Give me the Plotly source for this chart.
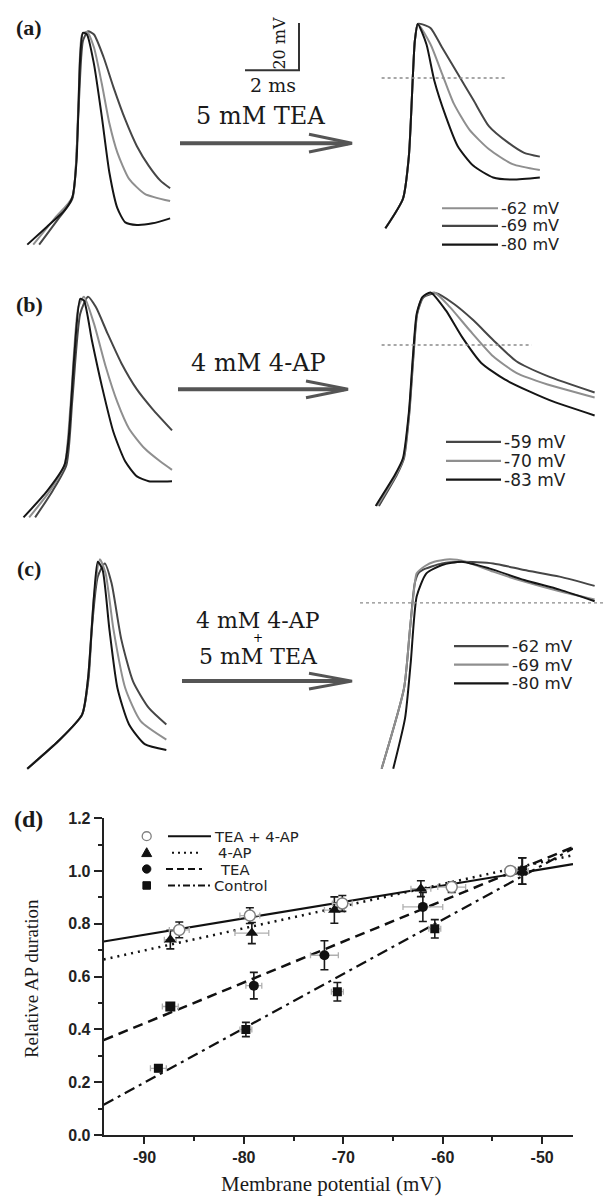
import plotly.graph_objects as go

W, H = 613, 1204          # reference picture size
OFF = 8                   # browser body margin that shifts the page content
PX_PER_MS = 27.0          # 2 ms scale bar = 54 px
PX_PER_MV = 2.4           # 20 mV scale bar = 48 px
V_REF = -70.0

DARK, LIGHT, BLACK = "#464646", "#8f8f8f", "#151515"

# ---------------- data: panel (a) ----------------
A_L_T_BLACK = [0.27, 1.00, 1.65, 1.94, 2.09, 2.23, 2.33, 2.48, 2.74, 3.03, 3.31, 3.61, 3.90, 4.33, 4.91, 5.56]
A_L_V_BLACK = [-65.8, -58.2, -51.3, -45.7, -31.1, 13.3, 23.75, 23.0, 10.5, -11.7, -35.3, -50.5, -56.4, -57.5, -56.8, -54.7]
A_L_T_LIGHT = [0.49, 1.30, 1.94, 2.16, 2.30, 2.48, 2.74, 3.03, 3.31, 3.61, 4.04, 4.62, 5.56]
A_L_V_LIGHT = [-65.8, -54.5, -45.7, -7.5, 23.0, 24.2, 17.5, 2.2, -14.5, -27.0, -38.0, -44.3, -47.4]
A_L_T_DARK = [0.71, 1.43, 1.94, 2.16, 2.33, 2.52, 2.74, 3.10, 3.46, 3.90, 4.33, 4.77, 5.20, 5.56]
A_L_V_DARK = [-65.8, -54.7, -46.4, -10.3, 20.3, 24.4, 23.0, 13.3, 0.8, -13.0, -24.2, -32.5, -38.75, -42.0]

A_R_T_BLACK = [0.20, 0.85, 1.07, 1.29, 1.40, 1.72, 2.01, 2.44, 2.88, 3.46, 4.19, 4.91, 5.92]
A_R_V_BLACK = [-58.9, -46.4, -28.3, 20.3, 27.5, 18.9, 3.6, -11.7, -24.2, -32.5, -37.4, -38.3, -37.4]
A_R_T_LIGHT = [0.20, 0.85, 1.07, 1.29, 1.40, 1.87, 2.30, 2.73, 3.31, 4.04, 4.91, 5.92]
A_R_V_LIGHT = [-58.9, -46.4, -28.3, 20.3, 27.5, 18.9, 6.4, -6.1, -17.2, -25.5, -31.8, -34.3]
A_R_T_DARK = [0.20, 0.85, 1.07, 1.29, 1.40, 1.50, 1.87, 2.30, 2.88, 3.46, 4.04, 4.76, 5.34, 5.92]
A_R_V_DARK = [-58.9, -46.4, -28.3, 20.3, 27.5, 27.5, 25.8, 17.5, 6.4, -4.7, -15.8, -22.8, -27.0, -28.6]
A_HALF_T = [0.06, 4.62]
A_HALF_V = [4.6, 4.6]
A_LABELS = ["-62 mV", "-69 mV", "-80 mV"]

# ---------------- data: panel (b) ----------------
B_L_T_BLACK = [0.13, 1.00, 1.65, 1.80, 2.01, 2.23, 2.37, 2.66, 3.03, 3.46, 3.90, 4.33, 4.77, 5.63]
B_L_V_BLACK = [-68.6, -57.5, -46.4, -35.3, -0.5, 23.75, 23.0, 6.4, -13.0, -32.5, -45.0, -51.25, -53.3, -53.3]
B_L_T_LIGHT = [0.34, 1.10, 1.65, 1.87, 2.16, 2.37, 2.74, 3.17, 3.61, 4.04, 4.62, 5.20, 5.63]
B_L_V_LIGHT = [-68.6, -57.5, -46.4, -21.4, 20.3, 24.7, 13.3, -4.7, -20.0, -31.1, -39.5, -45.0, -48.5]
B_L_T_DARK = [0.56, 1.20, 1.72, 1.94, 2.23, 2.52, 2.81, 3.24, 3.75, 4.33, 4.91, 5.63]
B_L_V_DARK = [-68.6, -57.5, -46.4, -18.6, 17.5, 24.7, 20.3, 9.2, -3.3, -14.5, -22.8, -31.8]

B_R_T_BLACK = [0.21, 0.93, 1.22, 1.44, 1.59, 1.73, 1.94, 2.24, 2.81, 3.40, 4.12, 4.99, 5.86, 6.87, 8.32]
B_R_V_BLACK = [-63.75, -50.5, -43.6, -24.2, -0.5, 17.5, 24.5, 26.5, 18.9, 7.8, -3.3, -10.3, -15.1, -20.0, -25.5]
B_R_T_LIGHT = [0.27, 0.97, 1.24, 1.45, 1.60, 1.74, 1.96, 2.38, 2.96, 3.69, 4.56, 5.42, 6.58, 8.32]
B_R_V_LIGHT = [-63.75, -50.5, -43.6, -24.2, -0.5, 17.5, 24.5, 26.5, 20.3, 10.5, -0.5, -7.5, -12.4, -17.9]
B_R_T_DARK = [0.33, 1.00, 1.26, 1.46, 1.61, 1.75, 1.98, 2.45, 3.10, 3.83, 4.56, 5.42, 6.58, 8.32]
B_R_V_DARK = [-63.75, -50.5, -43.6, -24.2, -0.5, 17.5, 24.5, 26.1, 21.7, 14.7, 6.4, -2.6, -8.9, -15.8]
B_HALF_T = [0.43, 5.99]
B_HALF_V = [4.3, 4.3]
B_LABELS = ["-59 mV", "-70 mV", "-83 mV"]

# ---------------- data: panel (c) ----------------
C_L_T_BLACK = [0.27, 1.43, 2.30, 2.52, 2.74, 2.88, 3.06, 3.31, 3.61, 4.04, 4.62, 5.42]
C_L_V_BLACK = [-66.5, -54.7, -43.6, -28.3, 6.4, 21.0, 17.5, -7.5, -32.5, -47.8, -56.1, -58.6]
C_L_T_LIGHT = [0.27, 1.43, 2.30, 2.52, 2.74, 2.96, 3.17, 3.46, 3.90, 4.47, 5.42]
C_L_V_LIGHT = [-66.5, -54.7, -43.6, -28.3, 6.4, 22.0, 16.1, -7.5, -32.5, -46.4, -54.2]
C_L_T_DARK = [0.27, 1.43, 2.30, 2.54, 2.66, 2.88, 3.14, 3.39, 3.75, 4.19, 4.77, 5.42]
C_L_V_DARK = [-66.5, -54.7, -43.6, -28.3, -7.5, 14.7, 20.3, 12.0, -11.7, -29.7, -40.8, -47.8]

C_R_T_LIGHT = [0.43, 1.26, 1.48, 1.66, 1.73, 2.04, 2.38, 2.96, 3.54, 4.56, 5.71, 7.02, 8.32]
C_R_V_LIGHT = [-66.5, -32.5, -7.5, 12.0, 16.1, 19.2, 21.0, 22.0, 21.0, 16.8, 12.6, 8.5, 5.0]
C_R_T_DARK = [0.43, 1.26, 1.48, 1.66, 1.80, 1.94, 2.67, 3.40, 4.56, 5.71, 7.02, 8.32]
C_R_V_DARK = [-66.5, -32.5, -7.5, 12.0, 16.25, 17.5, 20.3, 21.0, 20.3, 17.5, 14.7, 10.8]
C_R_T_BLACK = [0.86, 1.30, 1.51, 1.73, 2.09, 2.67, 3.40, 4.41, 5.71, 7.02, 8.32]
C_R_V_BLACK = [-66.5, -45.0, -21.4, 6.4, 16.1, 19.6, 21.0, 18.2, 13.3, 9.2, 4.3]
C_HALF_T = [-0.37, 8.99]
C_HALF_V = [3.6, 3.6]
C_LABELS = ["-62 mV", "-69 mV", "-80 mV"]

SCALE_MS = 2.0
SCALE_MV = 20.0

# ---------------- data: panel (d) ----------------
X_TICKS = [-90, -80, -70, -60, -50]
Y_TICKS = [0.0, 0.2, 0.4, 0.6, 0.8, 1.0, 1.2]
Y_TICK_TEXT = ["0.0", "0.2", "0.4", "0.6", "0.8", "1.0", "1.2"]

V_TEA4AP = [-86.5, -79.4, -70.1, -59.1, -53.2]
D_TEA4AP = [0.777, 0.831, 0.877, 0.939, 1.0]
EY_TEA4AP = [0.03, 0.03, 0.03, 0.02, 0.01]
EX_TEA4AP = [1.0, 1.0, 1.0, 1.4, 0.5]

V_4AP = [-87.4, -79.2, -70.9, -62.2, -52.0]
D_4AP = [0.740, 0.765, 0.852, 0.933, 1.0]
EY_4AP = [0.035, 0.04, 0.05, 0.03, 0.05]
EX_4AP = [0.6, 1.7, 1.0, 1.0, 0.6]

V_TEA = [-87.4, -79.0, -71.9, -62.0, -52.0]
D_TEA = [0.487, 0.566, 0.681, 0.864, 1.0]
EY_TEA = [0.012, 0.05, 0.055, 0.055, 0.05]
EX_TEA = [0.8, 0.8, 1.4, 2.0, 0.6]
SYM_TEA = ["square", "circle", "circle", "circle", "circle"]

V_CTRL = [-88.6, -79.8, -70.6, -60.8, -52.0]
D_CTRL = [0.253, 0.400, 0.543, 0.781, 1.0]
EY_CTRL = [0.012, 0.027, 0.035, 0.035, 0.05]
EX_CTRL = [0.8, 0.6, 0.6, 0.6, 0.6]

FIT_V = [-94.1, -46.9]
FIT_TEA4AP = [0.733, 1.026]
FIT_4AP = [0.665, 1.06]
FIT_TEA = [0.36, 1.09]
FIT_CTRL = [0.115, 1.085]

D_LEGEND = ["TEA + 4-AP", "4-AP", "TEA", "Control"]

# ---------------- helpers (reference pixel -> paper) ----------------
FW, FH = W - OFF, H - OFF


def px(x):
    return (x - OFF) / FW


def py(y):
    return 1 - (y - OFF) / FH


fig = go.Figure()

boxes = {
    1: dict(L=15, R=315, T=8, B=255, X0=20, Y1=250),
    2: dict(L=370, R=613, T=8, B=255, X0=380, Y1=250),
    3: dict(L=15, R=180, T=270, B=525, X0=20, Y1=520),
    4: dict(L=365, R=613, T=270, B=525, X0=370, Y1=520),
    5: dict(L=15, R=180, T=540, B=785, X0=20, Y1=780),
    6: dict(L=355, R=613, T=540, B=785, X0=370, Y1=780),
}
layout_axes = {}
for n, b in boxes.items():
    layout_axes[f"xaxis{n}"] = dict(
        domain=[px(b["L"]), px(b["R"])],
        range=[(b["L"] - b["X0"]) / PX_PER_MS, (b["R"] - b["X0"]) / PX_PER_MS],
        visible=False, anchor=f"y{n}", fixedrange=True)
    layout_axes[f"yaxis{n}"] = dict(
        domain=[py(b["B"]), py(b["T"])],
        range=[V_REF + (b["Y1"] - b["B"]) / PX_PER_MV, V_REF + (b["Y1"] - b["T"]) / PX_PER_MV],
        visible=False, anchor=f"x{n}", fixedrange=True)


def ap(n, t, v, color):
    fig.add_trace(go.Scatter(x=t, y=v, mode="lines", xaxis=f"x{n}", yaxis=f"y{n}",
                             line=dict(color=color, width=2, shape="spline", smoothing=0.6),
                             hoverinfo="skip"))


def half(n, t, v):
    fig.add_trace(go.Scatter(x=t, y=v, mode="lines", xaxis=f"x{n}", yaxis=f"y{n}",
                             line=dict(color="#8a8a8a", width=1.4, dash="dot"),
                             hoverinfo="skip"))


# panel (a)
ap(1, A_L_T_DARK, A_L_V_DARK, DARK)
ap(1, A_L_T_LIGHT, A_L_V_LIGHT, LIGHT)
ap(1, A_L_T_BLACK, A_L_V_BLACK, BLACK)
ap(2, A_R_T_DARK, A_R_V_DARK, DARK)
ap(2, A_R_T_LIGHT, A_R_V_LIGHT, LIGHT)
ap(2, A_R_T_BLACK, A_R_V_BLACK, BLACK)
half(2, A_HALF_T, A_HALF_V)
# scale bar (corner placed at px 299, 63 of panel a)
tc = (299 - boxes[1]["X0"]) / PX_PER_MS
vc = V_REF + (boxes[1]["Y1"] - 63) / PX_PER_MV
fig.add_trace(go.Scatter(x=[tc - SCALE_MS, tc, tc], y=[vc, vc, vc + SCALE_MV], mode="lines",
                         xaxis="x1", yaxis="y1", line=dict(color="#333", width=2),
                         hoverinfo="skip"))

# panel (b)
ap(3, B_L_T_DARK, B_L_V_DARK, DARK)
ap(3, B_L_T_LIGHT, B_L_V_LIGHT, LIGHT)
ap(3, B_L_T_BLACK, B_L_V_BLACK, BLACK)
ap(4, B_R_T_DARK, B_R_V_DARK, DARK)
ap(4, B_R_T_LIGHT, B_R_V_LIGHT, LIGHT)
ap(4, B_R_T_BLACK, B_R_V_BLACK, BLACK)
half(4, B_HALF_T, B_HALF_V)

# panel (c)
ap(5, C_L_T_DARK, C_L_V_DARK, DARK)
ap(5, C_L_T_LIGHT, C_L_V_LIGHT, LIGHT)
ap(5, C_L_T_BLACK, C_L_V_BLACK, BLACK)
ap(6, C_R_T_DARK, C_R_V_DARK, DARK)
ap(6, C_R_T_LIGHT, C_R_V_LIGHT, LIGHT)
ap(6, C_R_T_BLACK, C_R_V_BLACK, BLACK)
half(6, C_HALF_T, C_HALF_V)

# panel (d)
fig.add_trace(go.Scatter(x=FIT_V, y=FIT_TEA4AP, mode="lines", xaxis="x7", yaxis="y7",
                         line=dict(color="#111", width=2.2)))
fig.add_trace(go.Scatter(x=FIT_V, y=FIT_4AP, mode="lines", xaxis="x7", yaxis="y7",
                         line=dict(color="#111", width=2.5, dash="2px,5px")))
fig.add_trace(go.Scatter(x=FIT_V, y=FIT_TEA, mode="lines", xaxis="x7", yaxis="y7",
                         line=dict(color="#111", width=2.5, dash="10px,6px")))
fig.add_trace(go.Scatter(x=FIT_V, y=FIT_CTRL, mode="lines", xaxis="x7", yaxis="y7",
                         line=dict(color="#111", width=2.2, dash="11px,5px,3px,5px")))


def series(v, d, ey, ex, marker):
    fig.add_trace(go.Scatter(
        x=v, y=d, mode="markers", xaxis="x7", yaxis="y7", marker=marker,
        error_y=dict(type="data", array=ey, color="#1a1a1a", thickness=1.6, width=4),
        error_x=dict(type="data", array=ex, color="#b0b0b0", thickness=1.3, width=3)))


series(V_CTRL, D_CTRL, EY_CTRL, EX_CTRL, dict(symbol="square", size=9, color="#111"))
series(V_TEA, D_TEA, EY_TEA, EX_TEA, dict(symbol=SYM_TEA, size=10, color="#111"))
series(V_4AP, D_4AP, EY_4AP, EX_4AP, dict(symbol="triangle-up", size=11, color="#111"))
series(V_TEA4AP, D_TEA4AP, EY_TEA4AP, EX_TEA4AP,
       dict(symbol="circle", size=11, color="white", line=dict(color="#808080", width=1.5)))

axis_font = dict(family="Liberation Sans", size=16, color="#222", weight="bold")
layout_axes["xaxis7"] = dict(
    domain=[px(103.7), px(573)], range=[FIT_V[0], FIT_V[1]], anchor="y7",
    showline=True, linewidth=2, linecolor="#222", ticks="outside", ticklen=7, tickwidth=2,
    tickcolor="#222", tickvals=X_TICKS, ticktext=[str(t) for t in X_TICKS], tickfont=axis_font,
    minor=dict(dtick=5, ticks="outside", ticklen=4, tickwidth=2, tickcolor="#222"),
    showgrid=False, zeroline=False, fixedrange=True)
layout_axes["yaxis7"] = dict(
    domain=[py(1143.3), py(821.7)], range=[0, 1.2], anchor="x7",
    showline=True, linewidth=2, linecolor="#222", ticks="outside", ticklen=8, tickwidth=2,
    tickcolor="#222", tickvals=Y_TICKS, ticktext=Y_TICK_TEXT, tickfont=axis_font,
    minor=dict(dtick=0.1, ticks="outside", ticklen=4, tickwidth=2, tickcolor="#222"),
    showgrid=False, zeroline=False, fixedrange=True)

# ---------------- decorations ----------------
shapes = []
annotations = []


def text(x, y, s, size, family, bold=False, anchor="center", angle=0, color="#1a1a1a"):
    annotations.append(dict(x=px(x), y=py(y), xref="paper", yref="paper", text=s,
                            showarrow=False, xanchor=anchor, yanchor="middle", textangle=angle,
                            borderpad=0,
                            font=dict(family=family, size=size, color=color,
                                      weight="bold" if bold else "normal")))


def arrow(x1, x2, y, hx, hh):
    shapes.append(dict(type="line", xref="paper", yref="paper", x0=px(x1), x1=px(x2 - 4),
                       y0=py(y), y1=py(y), line=dict(color="#555", width=4)))
    path = f"M {px(hx)},{py(y - hh)} L {px(x2)},{py(y)} L {px(hx)},{py(y + hh)}"
    shapes.append(dict(type="path", xref="paper", yref="paper", path=path,
                       line=dict(color="#555", width=3)))


def trace_legend(rows, lx0, lx1, tx, colors, labels):
    pitch = min(b - a for a, b in zip(rows[:-1], rows[1:]))
    size = min(17, round(pitch / 1.12, 1))
    for yy, c, lab in zip(rows, colors, labels):
        shapes.append(dict(type="line", xref="paper", yref="paper", x0=px(lx0), x1=px(lx1),
                           y0=py(yy), y1=py(yy), line=dict(color=c, width=2.2)))
        text(tx, yy, lab, size, "DejaVu Sans", anchor="left", color="#222")


SERIF = "Liberation Serif"
WSERIF = "DejaVu Serif"

text(29, 20, "(a)", 22, SERIF, bold=True)
text(29, 301, "(b)", 22, SERIF, bold=True)
text(29, 568, "(c)", 22, SERIF, bold=True)
text(28, 823, "(d)", 24, SERIF, bold=True)

text(280, 36, "20 mV", 16, WSERIF, angle=-90)
text(273, 78, "2 ms", 19, WSERIF)
text(261, 109, "5 mM TEA", 24, WSERIF)
arrow(180, 352, 137, 309, 9)

text(258, 360, "4 mM 4-AP", 24, WSERIF)
arrow(178, 348, 386.7, 306, 8.5)

text(258, 621, "4 mM 4-AP", 22, WSERIF)
text(258, 639, "+", 12, WSERIF, color="#000000")
text(258, 658, "5 mM TEA", 22, WSERIF)
arrow(182, 352, 682.7, 309, 8)

trace_legend([203, 221, 240], 442, 498, 500, [LIGHT, DARK, BLACK], A_LABELS)
trace_legend([440, 459.3, 478.3], 446, 501, 503, [DARK, LIGHT, BLACK], B_LABELS)
trace_legend([647.3, 666, 685], 454, 508.6, 510.6, [DARK, LIGHT, BLACK], C_LABELS)

# legend of panel (d)
mx = 146.7
r1, r2, r3, r4 = 840, 856.7, 873.3, 890
shapes.append(dict(type="circle", xref="paper", yref="paper", x0=px(mx - 4.5), x1=px(mx + 4.5),
                   y0=py(r1 + 4.5), y1=py(r1 - 4.5), fillcolor="white",
                   line=dict(color="#808080", width=1.3)))
shapes.append(dict(type="path", xref="paper", yref="paper",
                   path=f"M {px(mx - 5)},{py(r2 + 4)} L {px(mx + 5)},{py(r2 + 4)} L {px(mx)},{py(r2 - 5)} Z",
                   fillcolor="#111", line=dict(color="#111", width=1)))
shapes.append(dict(type="circle", xref="paper", yref="paper", x0=px(mx - 4.2), x1=px(mx + 4.2),
                   y0=py(r3 + 4.2), y1=py(r3 - 4.2), fillcolor="#111", line=dict(color="#111", width=1)))
shapes.append(dict(type="rect", xref="paper", yref="paper", x0=px(mx - 3.8), x1=px(mx + 3.8),
                   y0=py(r4 + 3.8), y1=py(r4 - 3.8), fillcolor="#111", line=dict(color="#111", width=1)))
for yy, x0, x1, dash, tx, lab in [
        (r1, 168, 211, "solid", 213, D_LEGEND[0]),
        (r2, 172, 200, "2px,4px", 217, D_LEGEND[1]),
        (r3, 166, 202, "7px,4px", 219, D_LEGEND[2]),
        (r4, 168, 211, "7px,3px,2px,3px", 213, D_LEGEND[3])]:
    shapes.append(dict(type="line", xref="paper", yref="paper", x0=px(x0), x1=px(x1),
                       y0=py(yy), y1=py(yy), line=dict(color="#111", width=2, dash=dash)))
    text(tx, yy, lab, 14.8, "DejaVu Sans", anchor="left", color="#222")

text(31, 985, "Relative AP duration", 19, SERIF, angle=-90)
text(331, 1193, "Membrane potential (mV)", 21, SERIF)

fig.update_layout(
    width=FW, height=FH, margin=dict(l=0, r=0, t=0, b=0),
    paper_bgcolor="white", plot_bgcolor="rgba(0,0,0,0)", showlegend=False,
    shapes=shapes, annotations=annotations, **layout_axes)

fig.write_html("out.html")
